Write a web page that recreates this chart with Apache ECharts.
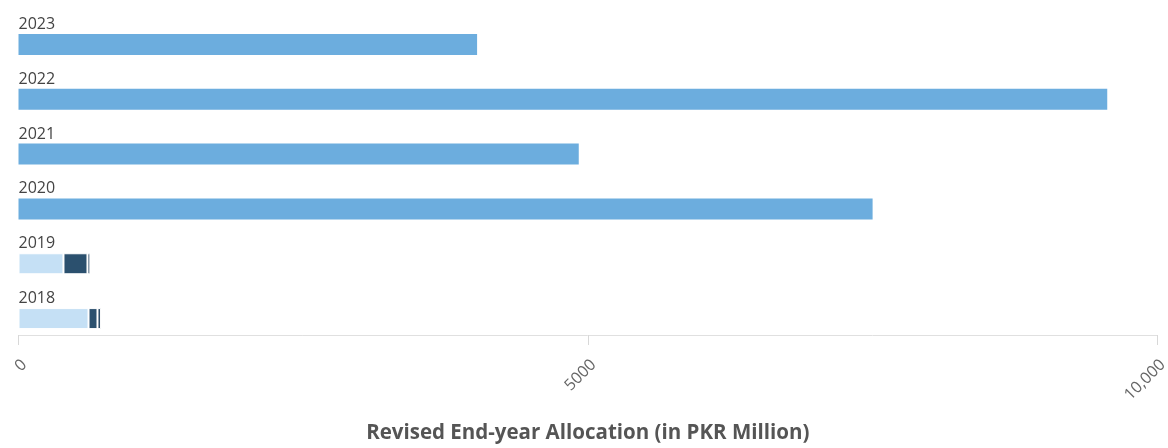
<!DOCTYPE html>
<html>
<head>
<meta charset="utf-8">
<script src="https://cdn.jsdelivr.net/npm/echarts@6/dist/echarts.min.js"></script>
<style>
html,body{margin:0;padding:0;background:#fff;}
#chart{width:1168px;height:448px;}
</style>
</head>
<body>
<div id="chart"></div>
<script>
var categories = ['2023', '2022', '2021', '2020', '2019', '2018'];
var totalValues = [4028, 9563, 4921, 7502, null, null];
var lightValues = [null, null, null, null, 395, 615];
var darkValues = [null, null, null, null, 211, 79];
var darkestValues = [null, null, null, null, 25, 30];
var xTicks = {0: '0', 5000: '5000', 10000: '10,000'};
var axisTitle = 'Revised End-year Allocation (in PKR Million)';

var chart = echarts.init(document.getElementById('chart'), null, {renderer: 'canvas'});
var font = '"Open Sans", "Noto Sans", sans-serif';
function seg(name, data, color, border) {
  return {
    name: name,
    type: 'bar',
    stack: 'total',
    barWidth: 21,
    data: data,
    itemStyle: {color: color, borderColor: '#fff', borderWidth: border ? 1 : 0},
    emphasis: {disabled: true}
  };
}
chart.setOption({
  animation: false,
  backgroundColor: '#fff',
  grid: {left: 18.5, right: 11, top: 17, bottom: 102, containLabel: false, outerBoundsMode: 'none'},
  xAxis: {
    type: 'value',
    min: 0, max: 10000, interval: 5000,
    offset: -11,
    splitLine: {show: false},
    axisLine: {show: true, lineStyle: {color: '#e0e0e0', width: 1}},
    axisTick: {show: true, length: 10, lineStyle: {color: '#d8d8d8'}},
    axisLabel: {
      rotate: 45, margin: 33, color: '#666', fontSize: 16, fontFamily: font,
      padding: [0, -8, 0, 0],
      formatter: function (v) { return xTicks[v] !== undefined ? xTicks[v] : String(v); }
    },
    name: axisTitle,
    nameLocation: 'middle',
    nameGap: 88,
    nameTextStyle: {color: '#555', fontSize: 20.5, fontWeight: 'bold', fontFamily: font}
  },
  yAxis: {
    type: 'category',
    data: categories,
    inverse: true,
    axisLine: {show: false},
    axisTick: {show: false},
    splitLine: {show: false},
    axisLabel: {
      inside: true, margin: 0, align: 'left', verticalAlign: 'bottom',
      padding: [0, 0, 12, 0],
      color: '#444', fontSize: 16, fontFamily: font
    }
  },
  series: [
    seg('Total', totalValues, '#6cadde', false),
    seg('Component A', lightValues, '#c5e0f5', true),
    seg('Component B', darkValues, '#2b506e', true),
    seg('Component C', darkestValues, '#1f3f5c', true)
  ]
});
</script>
</body>
</html>
